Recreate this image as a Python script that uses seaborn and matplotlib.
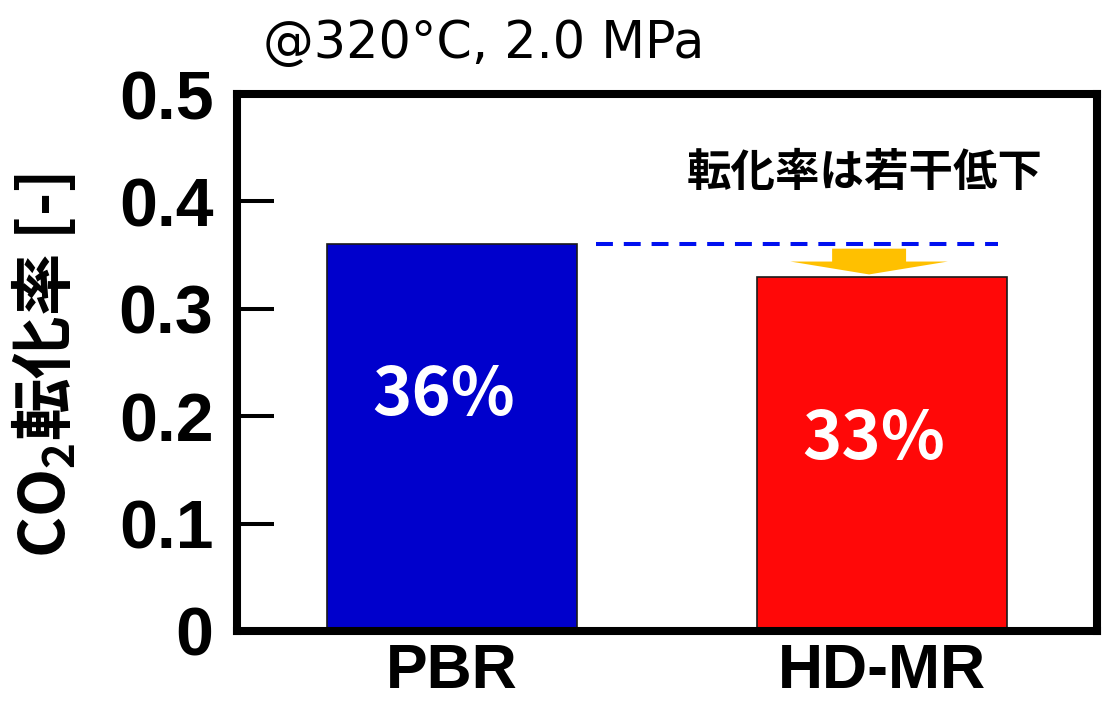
import matplotlib
matplotlib.use("Agg")
import matplotlib.pyplot as plt
import seaborn as sns
import pandas as pd
from matplotlib.patches import Polygon

# --- data -----------------------------------------------------------------
categories = ["PBR", "HD-MR"]
conversion = [0.36, 0.33]
bar_colors = ["#0000CC", "#FF0808"]
y_ticks = [0.0, 0.1, 0.2, 0.3, 0.4, 0.5]
y_tick_labels = ["0", "0.1", "0.2", "0.3", "0.4", "0.5"]
title_text = "@320°C, 2.0 MPa"
y_label = r"CO$_\mathregular{2}$転化率 [-]"
note_text = "転化率は若干低下"

# --- style ----------------------------------------------------------------
sns.set_theme(style="white")
plt.rcParams["font.family"] = ["Noto Sans CJK JP", "DejaVu Sans"]
for key in ("text.color", "axes.labelcolor", "xtick.color", "ytick.color"):
    plt.rcParams[key] = "black"
LATIN_BOLD = dict(fontfamily="Liberation Sans", fontweight="bold")

W, H = 1103, 705
fig = plt.figure(figsize=(W / 100, H / 100), dpi=100)
fig.patch.set_facecolor("white")
ax = fig.add_axes([237 / W, 74 / H, 860 / W, 537 / H])

df = pd.DataFrame({"reactor": categories, "conversion": conversion})
sns.barplot(
    data=df, x="reactor", y="conversion", hue="reactor",
    palette=bar_colors, saturation=1, width=0.58,
    edgecolor="#1a1a1a", linewidth=1.2, legend=False, ax=ax,
)

ax.set_xlim(-0.5, 1.5)
ax.set_ylim(0, 0.5)
ax.set_xlabel("")
ax.set_ylabel("")

ax.set_yticks(y_ticks, labels=y_tick_labels, fontsize=49, **LATIN_BOLD)
ax.set_xticks(range(len(categories)), labels=categories, fontsize=45, **LATIN_BOLD)
ax.tick_params(axis="y", direction="in", length=26.5, width=2.9, pad=17,
               color="black", labelcolor="black", left=True)
ax.tick_params(axis="x", length=0, pad=8, labelcolor="black")

for spine in ax.spines.values():
    spine.set_visible(True)
    spine.set_linewidth(5.8)
    spine.set_color("black")

# percentage labels inside the bars
label_y = [0.219, 0.178]
for i, v in enumerate(conversion):
    ax.text(i - 0.02, label_y[i], f"{round(v * 100)}%", color="white",
            fontsize=48, fontweight="bold", ha="center", va="center")

# reference level of PBR, drawn across to HD-MR
ref = conversion[0]
ax.plot([0.334, 1.269], [ref, ref], color="#0010F0", lw=2.9,
        linestyle=(0, (4.2, 2.7)), solid_capstyle="butt")

# downward arrow from reference level to HD-MR bar top
cx, shaft_hw, head_hw = 0.97, 0.086, 0.183
top = ref - 0.004
tip = conversion[1] + 0.002
head_base = tip + (top - tip) * 0.5
arrow = Polygon(
    [(cx - shaft_hw, top), (cx + shaft_hw, top), (cx + shaft_hw, head_base),
     (cx + head_hw, head_base), (cx, tip), (cx - head_hw, head_base),
     (cx - shaft_hw, head_base)],
    closed=True, facecolor="#FFC000", edgecolor="none", zorder=3,
)
ax.add_patch(arrow)

ax.text(0.96, 0.426, note_text, fontsize=32, fontweight="bold",
        ha="center", va="center")

fig.text(263 / W, 1 - 58 / H, title_text, fontsize=36.5, ha="left",
         va="baseline", fontfamily="DejaVu Sans")
fig.text(43 / W, 1 - 366 / H, y_label, fontsize=45, fontweight="bold",
         rotation=90, ha="center", va="center")

fig.savefig("out.png", dpi=100, facecolor="white")
